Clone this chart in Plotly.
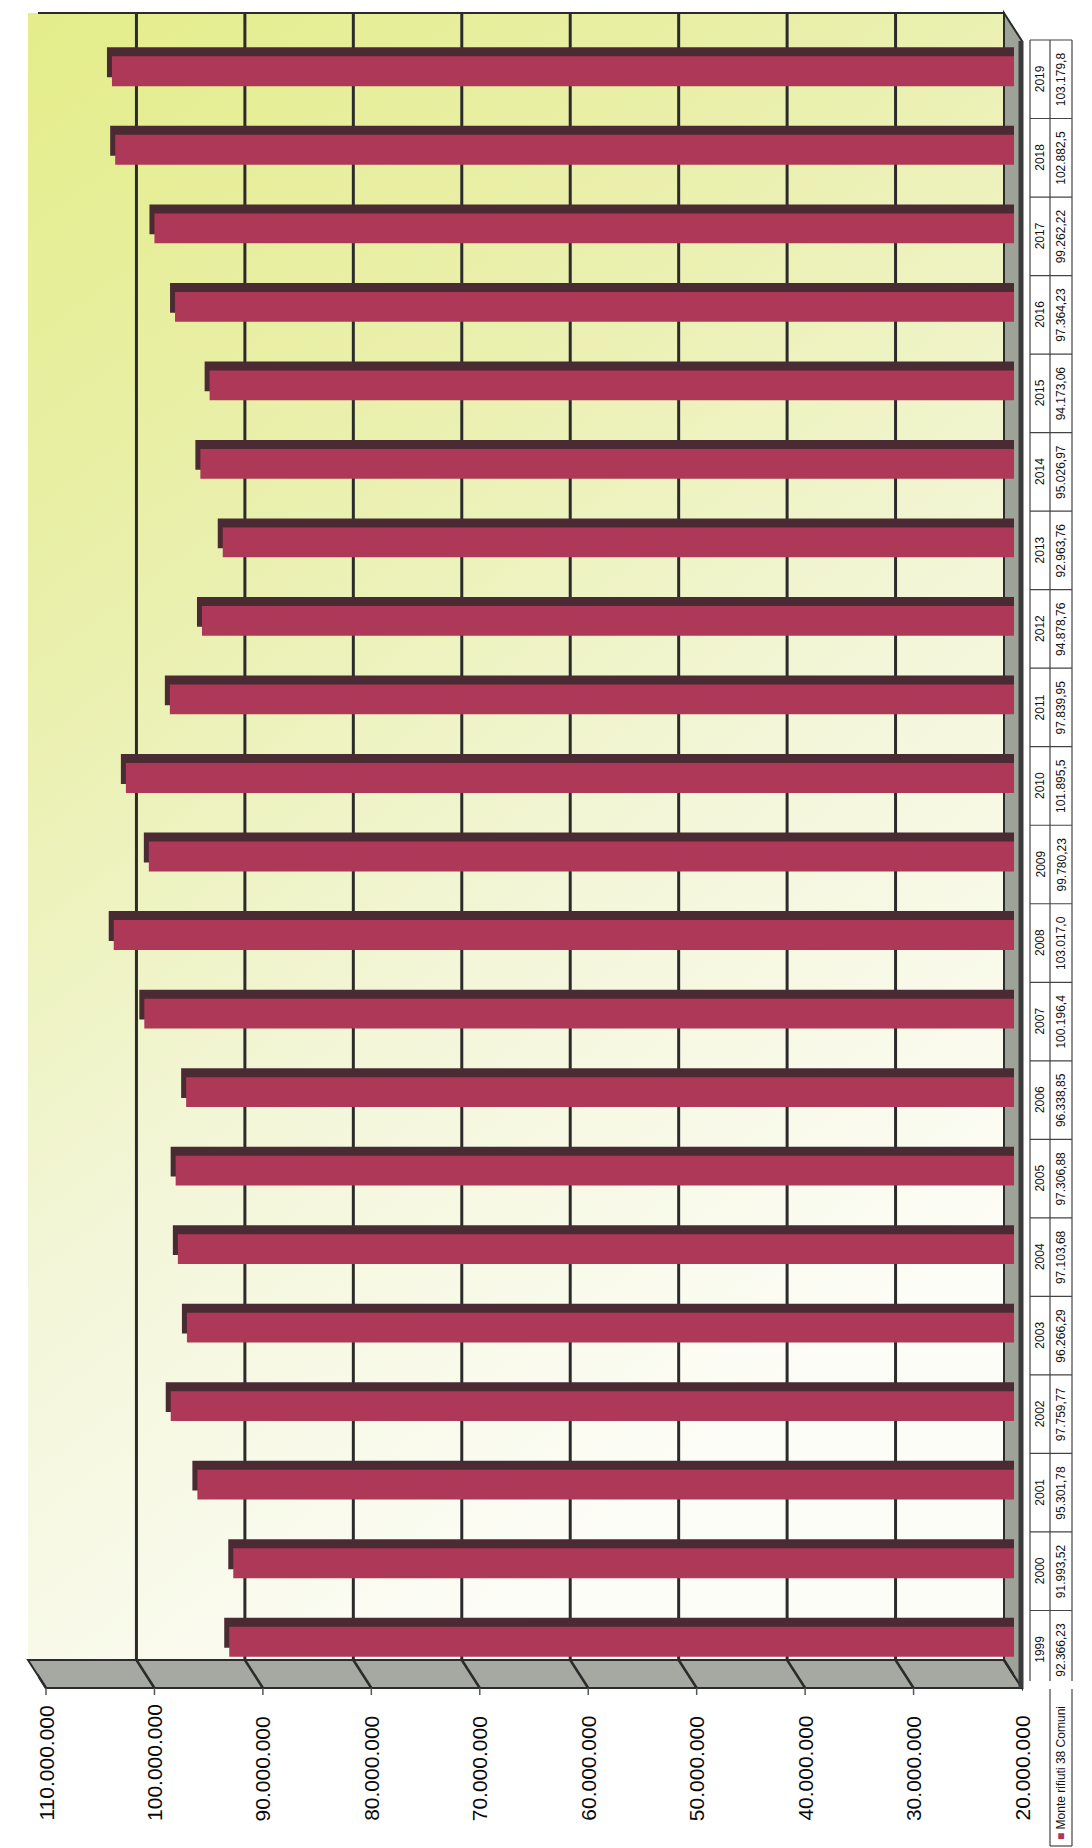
import base64
import plotly.graph_objects as go

# ---- data -------------------------------------------------------------
years = [str(y) for y in range(1999, 2020)]
tonnes = [
    92366.23, 91993.52, 95301.78, 97759.77, 96266.29, 97103.68, 97306.88,
    96338.85, 100196.4, 103017.0, 99780.23, 101895.5, 97839.95, 94878.76,
    92963.76, 95026.97, 94173.06, 97364.23, 99262.22, 102882.5, 103179.8,
]
series_name = "Monte rifiuti 38 Comuni"
tick_values = [110e6, 100e6, 90e6, 80e6, 70e6, 60e6, 50e6, 40e6, 30e6, 20e6]
tick_labels = ["110.000.000", "100.000.000", "90.000.000", "80.000.000",
               "70.000.000", "60.000.000", "50.000.000", "40.000.000",
               "30.000.000", "20.000.000"]

kg = [t * 1000 for t in tonnes]


def it_number(t):
    decimals = 1 if t >= 100000 else 2
    s = f"{t:,.{decimals}f}"
    return s.replace(",", "#").replace(".", ",").replace("#", ".")


value_labels = [it_number(t) for t in tonnes]

# ---- geometry ---------------------------------------------------------
FIG_W, FIG_H = 1092, 1848
L, R = 38, 1014          # value axis: 110M at L, 20M at R (bar front faces)
T, B = 32, 1681          # category band
W, H = R - L, B - T
N = len(years)
X_HI, X_LO = tick_values[0], tick_values[-1]
SPAN = X_HI - X_LO

WALL_TOP, WALL_BOT = 13, 1660
DEPTH_X, DEPTH_Y = 18, 28          # 3D depth of the side walls
WALL_DX = -10                       # back wall relative to bar fronts
FRONT_DX = WALL_DX + DEPTH_X        # front edge of the value-axis wall
BAR_DEPTH = (-5, -9)                # bar top face offset
TABLE_DY = 8
TAB_X0, TAB_X1, TAB_X2 = 1030, 1050, 1072
TAB_BOTTOM = 1846

CRIMSON = "#AE3858"
DARK = "#4A2B33"
LINE = "#2B2B2B"
FONT = "Liberation Sans, Arial, sans-serif"


def x_range(dx):
    a = X_HI + dx * SPAN / W
    return [a, a - SPAN]


def y_range(dy):
    r0 = -0.5 + dy * N / H
    return [r0, r0 + N]


def px(p):
    return (p - L) / W


def py(p):
    return (B - p) / H


fig = go.Figure()

# top / side faces of the bars (drawn first, behind the fronts)
fig.add_trace(go.Bar(y=years, x=kg, orientation="h", xaxis="x", yaxis="y",
                     width=0.38, marker=dict(color=DARK, line=dict(width=0)),
                     hoverinfo="skip", showlegend=False))
# front faces
fig.add_trace(go.Bar(y=years, x=kg, orientation="h", xaxis="x2", yaxis="y2",
                     width=0.38, marker=dict(color=CRIMSON, line=dict(width=0)),
                     name=series_name, showlegend=False))
# empty traces so the helper frames exist
for xa, ya in (("x3", "y"), ("x4", "y"), ("x", "y3")):
    fig.add_trace(go.Scatter(x=[], y=[], xaxis=xa, yaxis=ya,
                             showlegend=False, hoverinfo="skip"))

shapes = []

# bottom side wall (value axis wall)
strip = [(L + WALL_DX, WALL_BOT), (R + WALL_DX, WALL_BOT),
         (R + FRONT_DX, WALL_BOT + DEPTH_Y), (L + FRONT_DX, WALL_BOT + DEPTH_Y)]
path = "M " + " L ".join(f"{px(a)},{py(b)}" for a, b in strip) + " Z"
shapes.append(dict(type="path", xref="paper", yref="paper", path=path,
                   fillcolor="#A6A9A2", line=dict(color=LINE, width=2),
                   layer="below"))

# right floor
floor = [(R + WALL_DX, WALL_TOP), (R + FRONT_DX, WALL_TOP + DEPTH_Y),
         (R + FRONT_DX, WALL_BOT + DEPTH_Y), (R + WALL_DX, WALL_BOT)]
path = "M " + " L ".join(f"{px(a)},{py(b)}" for a, b in floor) + " Z"
shapes.append(dict(type="path", xref="paper", yref="paper", path=path,
                   fillcolor="#9DA399", line=dict(color=LINE, width=2),
                   layer="below"))
shapes.append(dict(type="line", xref="paper", yref="paper",
                   x0=px(R + FRONT_DX - 1), x1=px(R + FRONT_DX - 1),
                   y0=py(WALL_TOP + DEPTH_Y), y1=py(WALL_BOT + DEPTH_Y),
                   line=dict(color="#3A3A3A", width=5), layer="below"))

# back wall border and grid lines
shapes.append(dict(type="rect", xref="x3", yref="paper", x0=X_HI, x1=X_LO,
                   y0=py(WALL_BOT), y1=py(WALL_TOP),
                   line=dict(color=LINE, width=2), layer="below"))
for v in tick_values[1:-1]:
    shapes.append(dict(type="line", xref="x3", yref="paper", x0=v, x1=v,
                       y0=py(WALL_BOT), y1=py(WALL_TOP),
                       line=dict(color=LINE, width=3), layer="below"))

# grid lines continued across the bottom side wall, and tick marks
for v in tick_values:
    shapes.append(dict(type="line", xref="x3", yref="paper",
                       x0=v, x1=v - DEPTH_X * SPAN / W,
                       y0=py(WALL_BOT), y1=py(WALL_BOT + DEPTH_Y),
                       line=dict(color=LINE, width=2.5), layer="below"))
    shapes.append(dict(type="line", xref="x4", yref="paper", x0=v, x1=v,
                       y0=py(WALL_BOT + DEPTH_Y), y1=py(WALL_BOT + DEPTH_Y + 7),
                       line=dict(color="#555555", width=1.5), layer="below"))

# data table
for k in range(N + 1):
    shapes.append(dict(type="line", xref="paper", yref="y3",
                       x0=px(TAB_X0), x1=px(TAB_X2), y0=k - 0.5, y1=k - 0.5,
                       line=dict(color="#444444", width=1.2)))
for xx in (TAB_X0, TAB_X1, TAB_X2):
    shapes.append(dict(type="line", xref="paper", yref="y3",
                       x0=px(xx), x1=px(xx), y0=-0.5, y1=N - 0.5,
                       line=dict(color="#444444", width=1.2)))
for xx in (TAB_X1, TAB_X2):
    shapes.append(dict(type="line", xref="paper", yref="paper",
                       x0=px(xx), x1=px(xx), y0=py(B + TABLE_DY), y1=py(TAB_BOTTOM),
                       line=dict(color="#444444", width=1.2)))
shapes.append(dict(type="line", xref="paper", yref="paper",
                   x0=px(TAB_X1), x1=px(TAB_X2), y0=py(TAB_BOTTOM), y1=py(TAB_BOTTOM),
                   line=dict(color="#444444", width=1.2)))

annotations = []
# value-axis labels sit on the front edge of the side wall
for v, lab in zip(tick_values, tick_labels):
    annotations.append(dict(text=lab, xref="x2", x=v, xshift=FRONT_DX,
                            yref="paper", y=py(1823),
                            xanchor="center", yanchor="bottom", textangle=-90,
                            showarrow=False,
                            font=dict(family=FONT, size=21, color="#0A0A0A")))
for k, (yr, lab) in enumerate(zip(years, value_labels)):
    annotations.append(dict(text=yr, xref="paper", x=px((TAB_X0 + TAB_X1) / 2),
                            yref="y3", y=k, xanchor="center", yanchor="middle",
                            textangle=-90, showarrow=False,
                            font=dict(family=FONT, size=12, color="#111111")))
    annotations.append(dict(text=lab, xref="paper", x=px((TAB_X1 + TAB_X2) / 2),
                            yref="y3", y=k, xanchor="center", yanchor="middle",
                            textangle=-90, showarrow=False,
                            font=dict(family=FONT, size=12, color="#111111")))
annotations.append(dict(
    text=f'<span style="color:{CRIMSON}">■</span> {series_name}',
    xref="paper", x=px((TAB_X1 + TAB_X2) / 2), yref="paper", y=py(1842),
    xanchor="center", yanchor="bottom", textangle=-90, showarrow=False,
    font=dict(family=FONT, size=12, color="#111111")))

# back wall colour wash
wall_w = W
wall_h = WALL_BOT - WALL_TOP
svg = (
    f'<svg xmlns="http://www.w3.org/2000/svg" width="{wall_w}" height="{wall_h}" '
    f'viewBox="0 0 {wall_w} {wall_h}" preserveAspectRatio="none">'
    '<defs><linearGradient id="g" x1="0" y1="0" x2="0.45" y2="1">'
    '<stop offset="0" stop-color="#E4ED8A"/>'
    '<stop offset="0.35" stop-color="#EAF0AE"/>'
    '<stop offset="0.65" stop-color="#F3F6D8"/>'
    '<stop offset="1" stop-color="#FDFDF8"/>'
    '</linearGradient></defs>'
    f'<rect width="{wall_w}" height="{wall_h}" fill="url(#g)"/></svg>'
)
wall_src = "data:image/svg+xml;base64," + base64.b64encode(svg.encode()).decode()

hidden = dict(visible=False, showgrid=False, zeroline=False, fixedrange=True)
cat = dict(type="category", categoryorder="array", categoryarray=years)

fig.update_layout(
    width=FIG_W, height=FIG_H,
    margin=dict(l=L, r=FIG_W - R, t=T, b=FIG_H - B, pad=0),
    paper_bgcolor="white", plot_bgcolor="rgba(0,0,0,0)",
    barmode="overlay", showlegend=False,
    xaxis=dict(range=x_range(BAR_DEPTH[0]), **hidden),
    xaxis2=dict(range=x_range(0), overlaying="x", **hidden),
    xaxis3=dict(range=x_range(WALL_DX), overlaying="x", **hidden),
    xaxis4=dict(range=x_range(FRONT_DX), overlaying="x", **hidden),
    yaxis=dict(range=y_range(BAR_DEPTH[1]), **cat, **hidden),
    yaxis2=dict(range=y_range(0), overlaying="y", **cat, **hidden),
    yaxis3=dict(range=y_range(TABLE_DY), overlaying="y", **cat, **hidden),
    shapes=shapes,
    annotations=annotations,
    images=[dict(source=wall_src, xref="paper", yref="paper",
                 x=px(L + WALL_DX), y=py(WALL_TOP),
                 sizex=wall_w / W, sizey=wall_h / H,
                 xanchor="left", yanchor="top", sizing="stretch",
                 layer="below")],
)

fig.write_html("out.html")
